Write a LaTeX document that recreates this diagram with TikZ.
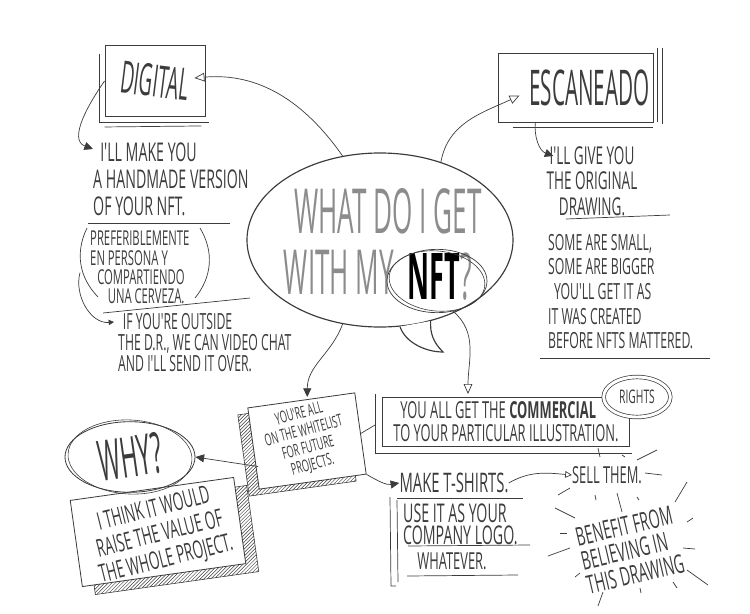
\documentclass[tikz,border=0pt]{standalone}
\usepackage{fontspec}
\usetikzlibrary{shapes.geometric, arrows.meta, patterns}
\newfontfamily\hand{Open Sans}[FakeStretch=0.55]
\newfontfamily\handtitle{Open Sans}[FakeStretch=0.42]
\definecolor{ink}{HTML}{3C3C3C}
\definecolor{pencil}{HTML}{8C8C8C}

\begin{document}
\begin{tikzpicture}[
    x=0.03cm, y=-0.03cm,
    handtext/.style 2 args={font=\hand\fontsize{#1}{#2}\selectfont, text=ink, inner sep=0pt, align=left},
    titletext/.style={font=\handtitle\fontsize{#1}{#1}\selectfont, text=ink, inner sep=0pt},
    frame/.style={rectangle, draw=ink, line width=0.8pt},
    card/.style={rectangle, draw=ink, line width=0.7pt, fill=white},
    cardshadow/.style={rectangle, draw=ink, line width=0.5pt, pattern=north east lines, pattern color=ink},
    rule/.style={draw=ink, line width=0.6pt},
    openarrow/.style={-{Triangle[open, length=3mm, width=2.6mm]}, draw=ink, line width=0.6pt},
    fillarrow/.style={-{Triangle[length=2.6mm, width=2.4mm]}, draw=ink, line width=0.6pt}
]
\useasboundingbox (0,0) rectangle (750,614);

% Centre bubble
\node[ellipse, draw=ink, line width=1pt, minimum width=7.98cm, minimum height=5.22cm] (bubble) at (380,240) {};
\draw[draw=ink, line width=1pt, fill=white] (bubble.-77) .. controls (405,342) and (425,352) .. (443,352) .. controls (433,342) and (430,333) .. (bubble.-58);
\node[titletext=53, text=pencil] (whatget) at (388,211) {WHAT DO I GET};
\node[titletext=53, text=pencil] (withmy) at (339,272) {WITH MY};
\node[titletext=55] (nft) at (440,277) {\textbf{\color{black}NFT}{\color{pencil}?}};
\node[ellipse, draw=ink, line width=0.6pt, minimum width=3cm, minimum height=1.9cm] (nftring) at (437,281) {};
\draw[ink, line width=0.5pt, rotate around={-6:(nftring.center)}] (nftring.center) ellipse [x radius=48, y radius=30];

% Digital
\node[frame, titletext=38, minimum width=3cm, minimum height=2.13cm] (digital) at (155,81) {\rotatebox{-7}{DIGITAL}};
\draw[rule] ([shift={(-5,9)}]digital.north west) -- ([shift={(-5,5)}]digital.south west) -- ([shift={(4,5)}]digital.south east);
\draw[rule] ([shift={(0,10)}]digital.south west) -- ([shift={(-4,9)}]digital.south east);

\node[handtext={22}{23}, anchor=north west] (makeyou) at (93,143) {\hspace*{6pt}I'LL MAKE YOU\\A HANDMADE VERSION\\OF YOUR NFT.};
\draw[rule] (88,223) -- (230,223);
\node[handtext={17.5}{16.5}, anchor=north west] (preferible) at (90,231) {PREFERIBLEMENTE\\EN PERSONA Y\\\hspace*{6pt}COMPARTIENDO\\\hspace*{15pt}UNA CERVEZA.};
\draw[rule] (87,228) to[bend right=35] (98,297);
\draw[rule] (200,228) to[bend left=35] (195,298);
\draw[rule] (103,313) -- (250,298);
\node[handtext={19}{18}, anchor=north west] (outside) at (118,313) {\hspace*{4pt}IF YOU'RE OUTSIDE\\THE D.R., WE CAN VIDEO CHAT\\AND I'LL SEND IT OVER.};

% Escaneado
\node[frame, titletext=42, minimum width=4.65cm, minimum height=2.07cm] (escaneado) at (575.5,87.5) {\hspace*{24pt}ESCANEADO};
\draw[rule] ([shift={(4,-5)}]escaneado.north east) -- ([shift={(4,0)}]escaneado.south east);
\draw[rule] ([shift={(9,-5)}]escaneado.north east) -- ([shift={(9,2)}]escaneado.south east);
\draw[rule] ([shift={(15,5)}]escaneado.south west) -- ([shift={(0,5)}]escaneado.south east);

\node[handtext={21}{22}, align=center, anchor=north] (giveyou) at (592,146) {I'LL GIVE YOU\\THE ORIGINAL\\DRAWING.};
\draw[rule] (566,219) -- (670,215);
\node[handtext={19}{21}, anchor=north west] (somesmall) at (548,234) {SOME ARE SMALL,\\SOME ARE BIGGER\\\hspace*{5pt}YOU'LL GET IT AS\\IT WAS CREATED\\BEFORE NFTS MATTERED.};
\draw[rule] (540,358) -- (710,358);

% Why
\node[cardshadow, minimum width=4.95cm, minimum height=2.61cm, rotate=8] (reasonshadow) at (171,540) {};
\node[card, minimum width=4.95cm, minimum height=2.61cm, rotate=8] (reasoncard) at (158,532) {};
\node[handtext={21}{22}, align=center, rotate=14] (reason) at (160,535) {I THINK IT WOULD\\RAISE THE VALUE OF\\THE WHOLE PROJECT.};
\node[ellipse, draw=ink, line width=0.7pt, minimum width=3.9cm, minimum height=2.1cm, titletext=48] (why) at (130,457) {\rotatebox{8}{WHY?}};
\draw[ink, line width=0.5pt, rotate around={-3:(why.center)}] (why.center) ellipse [x radius=62, y radius=37];

% Whitelist
\node[cardshadow, minimum width=3.24cm, minimum height=2.46cm, rotate=8] (whitelistshadow) at (297,448) {};
\node[card, minimum width=3.24cm, minimum height=2.46cm, rotate=8] (whitelistcard) at (307,441) {};
\node[handtext={14}{15}, align=center, rotate=15] (whitelist) at (306,440) {YOU'RE ALL\\ON THE WHITELIST\\FOR FUTURE\\PROJECTS.};

% Commercial rights
\node[frame, handtext={20}{19.5}, minimum width=7.41cm, minimum height=1.47cm] (commercial) at (506,422) {\hspace*{6pt}YOU ALL GET THE \textbf{COMMERCIAL}\\TO YOUR PARTICULAR ILLUSTRATION.};
\draw[rule] ([shift={(-7,-3)}]commercial.north west) -- ([shift={(-7,6)}]commercial.south west) -- ([shift={(2,6)}]commercial.south east);
\node[ellipse, draw=ink, line width=0.6pt, double, double distance=2.5pt, fill=white, minimum width=2cm, minimum height=1.2cm, handtext={16}{16}] (rights) at (637,397) {RIGHTS};

% Uses
\node[handtext={23}{23}] (tshirts) at (454,483) {MAKE T-SHIRTS.};
\draw[rule] (397,498) -- (523,498);
\node[handtext={20}{20}] (sellthem) at (607,475) {SELL THEM.};
\node[handtext={22}{18}, anchor=north west] (uselogo) at (403,504) {USE IT AS YOUR\\COMPANY LOGO.};
\draw[rule] (408,546) -- (530,545);
\node[handtext={20}{20}] (whatever) at (452,561) {WHATEVER.};
\draw[rule] (407,576) -- (518,575);
\draw[rule] (390,497) -- (391,586) -- (396,586);
\draw[rule] (397,500) -- (398,582);
\node[handtext={22}{21}, rotate=13] (benefit) at (630,550) {BENEFIT FROM\\BELIEVING IN\\THIS DRAWING};

% Rays
\foreach \xa/\ya/\xb/\yb in {598/448/600/457, 622/455/625/457, 637/460/657/450, 645/473/662/475,
    558/495/570/488, 595/495/596/500, 617/493/622/512, 637/497/639/500, 675/502/687/482,
    687/522/693/518, 683/548/695/549, 687/570/708/585, 673/582/677/588, 640/588/641/593,
    603/592/598/606, 575/577/580/573, 548/556/570/548, 560/533/567/533, 555/508/575/518}
  \draw[rule] (\xa,\ya) -- (\xb,\yb);

% Arrows
\draw[openarrow] (bubble.114) to[out=125, in=5] ([shift={(-11,-3)}]digital.east);
\draw[openarrow] (bubble.52) to[out=80, in=205] ([shift={(22,8)}]escaneado.west);
\draw[fillarrow] (bubble.246) to[out=250, in=90] ([shift={(6,-3)}]whitelistcard.north);
\draw[openarrow] (nftring.-62) to[out=-40, in=90] ([shift={(-38,-3)}]commercial.north);
\draw[fillarrow] (digital.west) to[out=235, in=160] ([shift={(0,6)}]makeyou.north west);
\draw[fillarrow] (escaneado.221) to[out=265, in=160] ([shift={(7,10)}]giveyou.north west);
\draw[fillarrow, -{Triangle[length=1.6mm, width=1.6mm]}] ([shift={(-10,5)}]preferible.west) to[out=255, in=185] ([shift={(-4,9)}]outside.north west);
\draw[fillarrow] ([shift={(5,18)}]whitelistcard.west) -- (why.east);
\draw[rule] (whitelistcard.east) -- ([shift={(-7,3)}]commercial.west);
\draw[fillarrow] (whitelistcard.south east) to[out=-30, in=190] (tshirts.west);
\draw[openarrow, -{Triangle[open, length=2mm, width=2mm]}] (tshirts.east) to[out=30, in=175] (sellthem.west);

\end{tikzpicture}
\end{document}
